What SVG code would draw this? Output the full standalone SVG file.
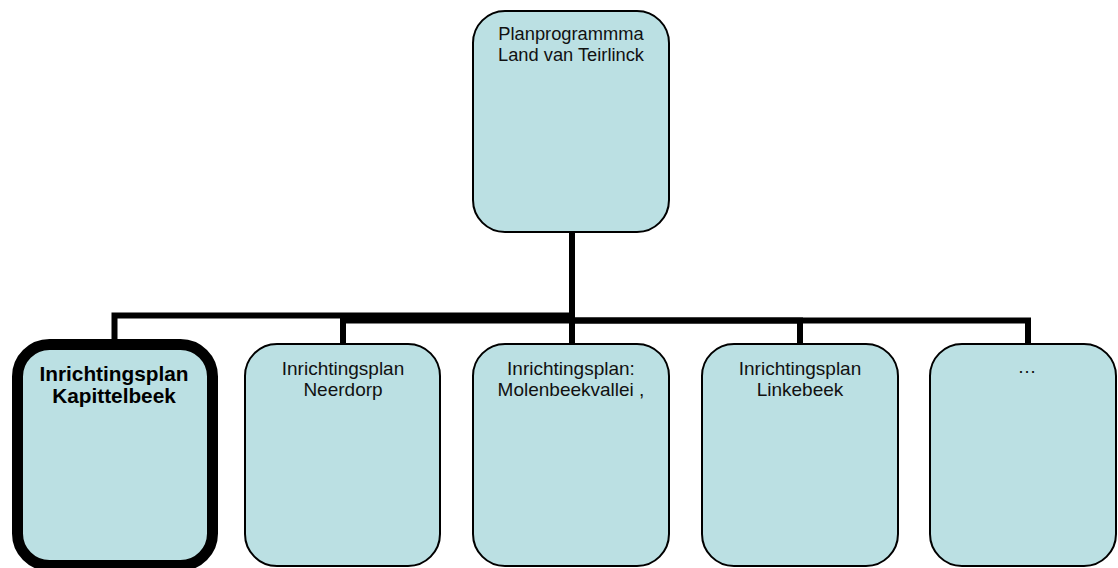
<svg xmlns="http://www.w3.org/2000/svg" width="1118" height="568" viewBox="0 0 1118 568">
<style>
.box{fill:#BBE0E3;stroke:#000;stroke-width:2}
.sel{fill:#BBE0E3;stroke:#000;stroke-width:11}
.conn{fill:none;stroke:#000;stroke-width:6;stroke-linejoin:miter}
text{font-family:"Liberation Sans",Arial,sans-serif;font-size:19px;fill:#111;text-anchor:middle}
.t{font-size:18.3px}
.b{font-weight:bold;font-size:20.8px;fill:#000}
</style>
<rect width="1118" height="568" fill="#fff"/>
<g id="connectors">
<path class="conn" d="M572,232 V315.5 H114.5 V341"/>
<path class="conn" d="M572,232 V320.5 H343 V345"/>
<path class="conn" d="M572,232 V345"/>
<path class="conn" d="M572,232 V320.5 H800 V345"/>
<path class="conn" d="M572,232 V320.5 H1028 V345"/>
</g>
<g id="n0">
<rect class="box" x="473" y="11" width="196" height="221" rx="32" ry="32"/>
<text class="t" x="571" y="40">Planprogrammma</text>
<text class="t" x="571" y="61">Land van Teirlinck</text>
</g>
<g id="n1">
<rect class="sel" x="17.5" y="344.5" width="195" height="221" rx="32" ry="32"/>
<text class="b" x="114" y="381">Inrichtingsplan</text>
<text class="b" x="114" y="403">Kapittelbeek</text>
</g>
<g id="n2">
<rect class="box" x="245" y="344" width="195" height="222" rx="32" ry="32"/>
<text x="343" y="375">Inrichtingsplan</text>
<text x="343" y="396">Neerdorp</text>
</g>
<g id="n3">
<rect class="box" x="473" y="344" width="196" height="222" rx="32" ry="32"/>
<text x="571" y="375">Inrichtingsplan:</text>
<text x="571" y="396">Molenbeekvallei ,</text>
</g>
<g id="n4">
<rect class="box" x="702" y="344" width="196" height="222" rx="32" ry="32"/>
<text x="800" y="375">Inrichtingsplan</text>
<text x="800" y="396">Linkebeek</text>
</g>
<g id="n5">
<rect class="box" x="930" y="344" width="186" height="222" rx="32" ry="32"/>
<text x="1027" y="373">…</text>
</g>
</svg>
